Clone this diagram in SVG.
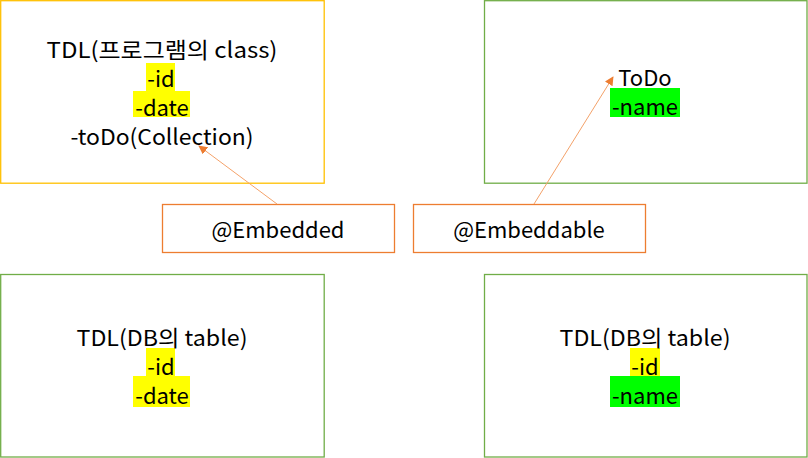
<svg xmlns="http://www.w3.org/2000/svg" width="808" height="458" viewBox="0 0 808 458">
<defs>
<style>
.t{font-family:"Noto Sans CJK KR","Noto Sans",sans-serif;font-size:22px;fill:#000;text-anchor:middle;dominant-baseline:central}
.y{fill:#FFFF00}
.g{fill:#00FF00}
.box{fill:#fff;stroke-width:1.3}
.con{stroke:#F4A26A;stroke-width:1;fill:none;marker-end:url(#ah)}
</style>
<marker id="ah" viewBox="0 0 10 10" refX="9" refY="5" markerWidth="9" markerHeight="9" orient="auto" markerUnits="userSpaceOnUse">
<path d="M0,0 L10,5 L0,10 z" fill="#ED7D31"/>
</marker>
</defs>
<rect width="808" height="458" fill="#fff"/>
<g id="class-tdl">
<rect class="box" x="0.7" y="0.7" width="323.5" height="182.5" stroke="#FFC000"/>
<rect class="y" x="146" y="63" width="29" height="28"/>
<rect class="y" x="133" y="91" width="57" height="26"/>
<text class="t" x="162" y="47.5" textLength="231" lengthAdjust="spacingAndGlyphs">TDL(프로그램의 class)</text>
<text class="t" x="161" y="77">-id</text>
<text class="t" x="162" y="106">-date</text>
<text class="t" x="162" y="135" textLength="183" lengthAdjust="spacingAndGlyphs">-toDo(Collection)</text>
</g>
<g id="class-todo">
<rect class="box" x="484.5" y="0.7" width="322.5" height="182.5" stroke="#70AD47"/>
<rect class="g" x="610" y="88" width="70" height="29"/>
<text class="t" x="645" y="76">ToDo</text>
<text class="t" x="645" y="105">-name</text>
</g>
<g id="embedded">
<rect class="box" x="162.5" y="204.5" width="232" height="48" stroke="#ED7D31"/>
<text class="t" x="278" y="228">@Embedded</text>
</g>
<g id="embeddable">
<rect class="box" x="413.5" y="204.5" width="232" height="48" stroke="#ED7D31"/>
<text class="t" x="529" y="228">@Embeddable</text>
</g>
<g id="table-tdl-1">
<rect class="box" x="0.7" y="274.5" width="323.5" height="182.5" stroke="#70AD47"/>
<rect class="y" x="146" y="348" width="29" height="28"/>
<rect class="y" x="133" y="376" width="57" height="31"/>
<text class="t" x="162" y="335.5" textLength="171" lengthAdjust="spacingAndGlyphs">TDL(DB의 table)</text>
<text class="t" x="161" y="365">-id</text>
<text class="t" x="162" y="394">-date</text>
</g>
<g id="table-tdl-2">
<rect class="box" x="484.5" y="274.5" width="322.5" height="182.5" stroke="#70AD47"/>
<rect class="y" x="630" y="348" width="30" height="28"/>
<rect class="g" x="610" y="376" width="70" height="31"/>
<text class="t" x="645" y="335.5" textLength="171" lengthAdjust="spacingAndGlyphs">TDL(DB의 table)</text>
<text class="t" x="645" y="365">-id</text>
<text class="t" x="645" y="394">-name</text>
</g>
<g id="connectors">
<line class="con" x1="277" y1="204" x2="199" y2="146"/>
<line class="con" x1="534" y1="204" x2="613" y2="77"/>
</g>
</svg>
